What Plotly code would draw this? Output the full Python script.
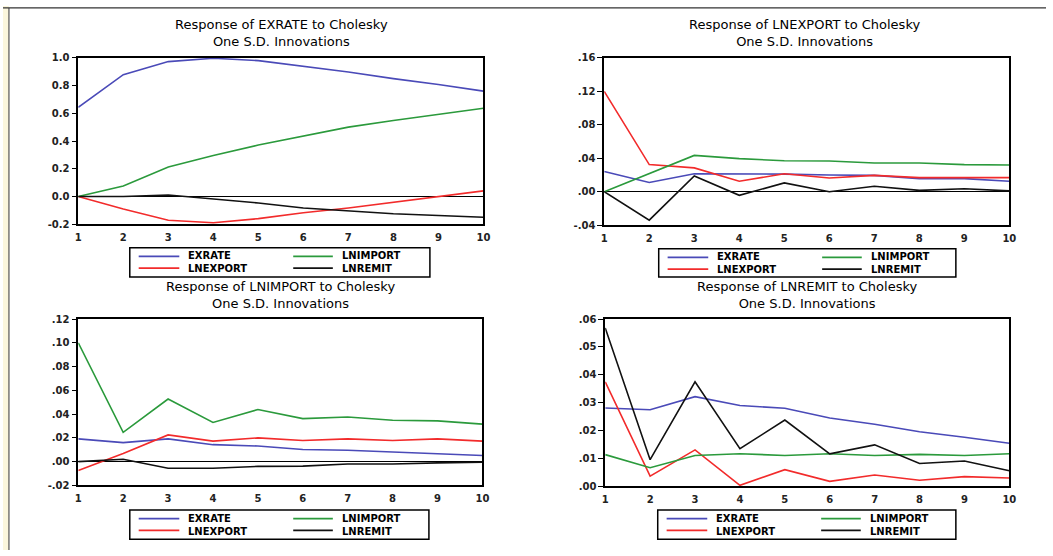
import plotly.graph_objects as go

W, H = 1053, 556

periods = [1, 2, 3, 4, 5, 6, 7, 8, 9, 10]
series_names = ["EXRATE", "LNEXPORT", "LNIMPORT", "LNREMIT"]
colors = {"EXRATE": "#4a4ab8", "LNEXPORT": "#f22b2b", "LNIMPORT": "#2b9a3c", "LNREMIT": "#111111"}

# Response of EXRATE
exrate_exrate = [0.643, 0.879, 0.973, 0.997, 0.980, 0.938, 0.898, 0.850, 0.808, 0.760]
exrate_lnexport = [0.0, -0.090, -0.172, -0.190, -0.160, -0.118, -0.083, -0.043, -0.002, 0.040]
exrate_lnimport = [0.0, 0.076, 0.213, 0.295, 0.371, 0.437, 0.500, 0.548, 0.591, 0.636]
exrate_lnremit = [0.0, 0.0, 0.010, -0.020, -0.047, -0.083, -0.106, -0.125, -0.137, -0.150]

# Response of LNEXPORT
lnexport_exrate = [0.0242, 0.0110, 0.0215, 0.0215, 0.0210, 0.0200, 0.0195, 0.0156, 0.0156, 0.0125]
lnexport_lnexport = [0.1200, 0.0324, 0.0285, 0.0125, 0.0215, 0.0164, 0.0195, 0.0168, 0.0168, 0.0168]
lnexport_lnimport = [0.0, 0.0215, 0.0434, 0.0395, 0.0370, 0.0367, 0.0344, 0.0344, 0.0324, 0.0320]
lnexport_lnremit = [0.0, -0.0340, 0.0188, -0.0043, 0.0105, 0.0, 0.0066, 0.0016, 0.0035, 0.0010]

# Response of LNIMPORT
lnimport_exrate = [0.0192, 0.0160, 0.0192, 0.0143, 0.0132, 0.0102, 0.0096, 0.0080, 0.0066, 0.0052]
lnimport_lnexport = [-0.0074, 0.0069, 0.0225, 0.0173, 0.0200, 0.0178, 0.0192, 0.0178, 0.0192, 0.0173]
lnimport_lnimport = [0.1000, 0.0247, 0.0527, 0.0330, 0.0439, 0.0362, 0.0376, 0.0349, 0.0343, 0.0316]
lnimport_lnremit = [0.0, 0.0020, -0.0055, -0.0055, -0.0040, -0.0038, -0.0020, -0.0020, -0.0010, -0.0005]

# Response of LNREMIT
lnremit_exrate = [0.0281, 0.0275, 0.0322, 0.0290, 0.0280, 0.0245, 0.0223, 0.0196, 0.0176, 0.0155]
lnremit_lnexport = [0.0375, 0.0037, 0.0131, 0.0004, 0.0060, 0.0018, 0.0041, 0.0022, 0.0035, 0.0030]
lnremit_lnimport = [0.0114, 0.0067, 0.0111, 0.0117, 0.0111, 0.0117, 0.0111, 0.0115, 0.0111, 0.0117]
lnremit_lnremit = [0.0568, 0.0096, 0.0375, 0.0135, 0.0238, 0.0117, 0.0149, 0.0082, 0.0091, 0.0056]

# Axis ticks
p1_ticks = [-0.2, 0.0, 0.2, 0.4, 0.6, 0.8, 1.0]
p1_labels = ["-0.2", "0.0", "0.2", "0.4", "0.6", "0.8", "1.0"]
p2_ticks = [-0.04, 0.0, 0.04, 0.08, 0.12, 0.16]
p2_labels = ["-.04", ".00", ".04", ".08", ".12", ".16"]
p3_ticks = [-0.02, 0.0, 0.02, 0.04, 0.06, 0.08, 0.10, 0.12]
p3_labels = ["-.02", ".00", ".02", ".04", ".06", ".08", ".10", ".12"]
p4_ticks = [0.0, 0.01, 0.02, 0.03, 0.04, 0.05, 0.06]
p4_labels = [".00", ".01", ".02", ".03", ".04", ".05", ".06"]

panels = [
    dict(title1="Response of EXRATE to Cholesky",
         data={"EXRATE": exrate_exrate, "LNEXPORT": exrate_lnexport,
               "LNIMPORT": exrate_lnimport, "LNREMIT": exrate_lnremit},
         ticks=p1_ticks, labels=p1_labels,
         px=(76, 485), py=(53, 223), tx=281, ty=28, leg=(128, 431, 247, 277)),
    dict(title1="Response of LNEXPORT to Cholesky",
         data={"EXRATE": lnexport_exrate, "LNEXPORT": lnexport_lnexport,
               "LNIMPORT": lnexport_lnimport, "LNREMIT": lnexport_lnremit},
         ticks=p2_ticks, labels=p2_labels,
         px=(607, 1016), py=(53, 224), tx=809, ty=28, leg=(662, 962, 248, 277)),
    dict(title1="Response of LNIMPORT to Cholesky",
         data={"EXRATE": lnimport_exrate, "LNEXPORT": lnimport_lnexport,
               "LNIMPORT": lnimport_lnimport, "LNREMIT": lnimport_lnremit},
         ticks=p3_ticks, labels=p3_labels,
         px=(76, 484), py=(320, 490), tx=280, ty=295, leg=(128, 430, 515, 545)),
    dict(title1="Response of LNREMIT to Cholesky",
         data={"EXRATE": lnremit_exrate, "LNEXPORT": lnremit_lnexport,
               "LNIMPORT": lnremit_lnimport, "LNREMIT": lnremit_lnremit},
         ticks=p4_ticks, labels=p4_labels,
         px=(608, 1016), py=(320, 491), tx=812, ty=295, leg=(661, 962, 515, 545)),
]

FONT = "DejaVu Sans"
fig = go.Figure()
layout = dict(width=W, height=H, margin=dict(l=0, r=0, t=0, b=0),
              paper_bgcolor="white", plot_bgcolor="white", showlegend=False)
annotations = []
shapes = [
    dict(type="rect", xref="paper", yref="paper", x0=0, x1=6 / W, y0=0, y1=1,
         fillcolor="#fbf6dc", line=dict(width=0), layer="below"),
    dict(type="line", xref="paper", yref="paper", x0=6 / W, x1=6 / W, y0=0, y1=1 - 2 / H,
         line=dict(color="#555", width=1.2)),
    dict(type="line", xref="paper", yref="paper", x0=0, x1=1, y0=1 - 2 / H, y1=1 - 2 / H,
         line=dict(color="#333", width=1.2)),
]

legend_cols = [["EXRATE", "LNEXPORT"], ["LNIMPORT", "LNREMIT"]]

for i, p in enumerate(panels, start=1):
    xa = "xaxis" if i == 1 else f"xaxis{i}"
    ya = "yaxis" if i == 1 else f"yaxis{i}"
    xref = "x" if i == 1 else f"x{i}"
    yref = "y" if i == 1 else f"y{i}"
    for name in series_names:
        fig.add_trace(go.Scatter(
            x=periods, y=p["data"][name], mode="lines", name=name,
            line=dict(color=colors[name], width=1.6),
            xaxis=xref, yaxis=yref, hoverinfo="x+y+name"))
    ymin, ymax = p["ticks"][0], p["ticks"][-1]
    layout[xa] = dict(domain=[p["px"][0] / W, p["px"][1] / W], range=[1, 10],
                      tickvals=periods, ticks="", showgrid=False, zeroline=False,
                      showline=True, linecolor="black", linewidth=1.5, mirror=True,
                      tickfont=dict(family=FONT, size=10, color="#222", weight="bold"),
                      ticklabelstandoff=3, anchor=yref, fixedrange=True)
    layout[ya] = dict(domain=[1 - p["py"][1] / H, 1 - p["py"][0] / H], range=[ymin, ymax],
                      tickvals=p["ticks"], ticktext=p["labels"], ticks="outside",
                      ticklen=5, tickwidth=1.2, tickcolor="black", showgrid=False,
                      zeroline=True, zerolinecolor="black", zerolinewidth=1.2,
                      showline=True, linecolor="black", linewidth=1.5, mirror=True,
                      tickfont=dict(family=FONT, size=10, color="#222", weight="bold"),
                      anchor=xref, fixedrange=True)
    # title (two lines)
    annotations.append(dict(text=p["title1"] + "<br>One S.D. Innovations",
                            x=p["tx"] / W, y=1 - p["ty"] / H,
                            xref="paper", yref="paper", showarrow=False,
                            xanchor="center", yanchor="middle", align="center",
                            font=dict(family=FONT, size=13, color="black")))
    # legend box
    lx0, lx1, ly0, ly1 = p["leg"]
    shapes.append(dict(type="rect", xref="paper", yref="paper",
                       x0=lx0 / W, x1=lx1 / W, y0=1 - ly1 / H, y1=1 - ly0 / H,
                       line=dict(color="black", width=1.5), fillcolor="white"))
    row_y = [ly0 + 9, ly0 + 21]
    col_off = [(9, 50, 57), (165, 205, 212)]
    for c, col in enumerate(legend_cols):
        s0, s1, t0 = col_off[c]
        for r, name in enumerate(col):
            shapes.append(dict(type="line", xref="paper", yref="paper",
                               x0=(lx0 + s0) / W, x1=(lx0 + s1) / W,
                               y0=1 - row_y[r] / H, y1=1 - row_y[r] / H,
                               line=dict(color=colors[name], width=1.8)))
        annotations.append(dict(text="<br>".join(col),
                                x=(lx0 + t0) / W, y=1 - (ly0 + ly1) / 2 / H,
                                xref="paper", yref="paper", showarrow=False,
                                xanchor="left", yanchor="middle", align="left",
                                font=dict(family=FONT, size=10, color="black", weight="bold")))

layout["annotations"] = annotations
layout["shapes"] = shapes
fig.update_layout(**layout)
fig.write_html("out.html", config={"displayModeBar": False},
               post_script="document.body.style.margin='0';document.body.style.overflow='hidden';")
